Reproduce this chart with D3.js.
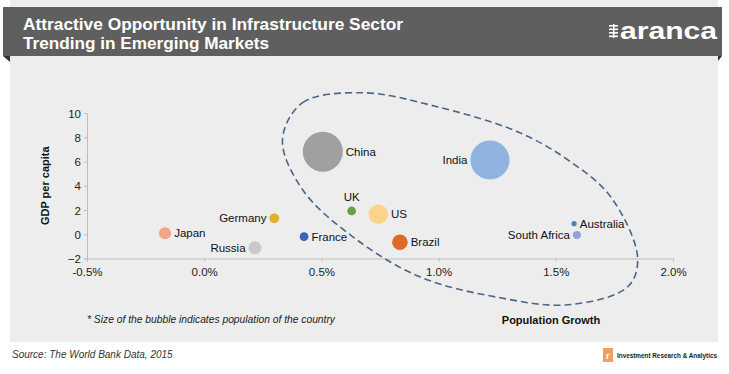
<!DOCTYPE html>
<html><head><meta charset="utf-8">
<script src="https://cdn.jsdelivr.net/npm/d3@7"></script>
<style>
body{margin:0;background:#fff;}
svg{display:block;font-family:"Liberation Sans",Arial,sans-serif;}
</style></head>
<body><svg id="c" width="729" height="374"></svg>
<script>
// ---- data ----
const countries = ["China","India","US","Brazil","Russia","Japan","Germany","France","UK","South Africa","Australia"];
const popGrowth = [0.506, 1.219, 0.743, 0.835, 0.217, -0.167, 0.299, 0.426, 0.629, 1.590, 1.578];
const gdpPerCapita = [6.81, 6.12, 1.65, -0.66, -1.11, 0.08, 1.32, -0.20, 1.92, -0.06, 0.87];
const population = [1371, 1311, 321, 208, 144, 127, 81, 66, 65, 55, 24];
const colors = ["#a0a0a2","#8fb4e0","#fdd387","#de6c26","#c9c9c9","#f2a487","#e5ad2e","#3b63bd","#6b9b45","#949fdb","#4f82b6"];
const labelPos = ["right","left","right","right","left","right","left","right","top","left","right"];
const xTicks = [-0.5, 0.0, 0.5, 1.0, 1.5, 2.0];
const yTicks = [-2, 0, 2, 4, 6, 8, 10];
// annotation loop (data coordinates)
const loopX = [0.334,0.420,0.676,0.993,1.336,1.550,1.734,1.849,1.807,1.550,1.263,0.920,0.634,0.420];
const loopY = [7.80,10.85,11.67,10.52,8.46,6.15,3.09,-1.94,-4.33,-5.82,-5.24,-3.51,-0.21,3.67];

const svg = d3.select("#c");
// background panel
svg.append("rect").attr("x",10).attr("y",0).attr("width",708).attr("height",342).attr("fill","#ededed");
// title ribbon
svg.append("path").attr("d","M3,56 L10,56 L10,62 Z").attr("fill","#333");
svg.append("path").attr("d","M722,56 L718,56 L718,61 Z").attr("fill","#333");
svg.append("rect").attr("x",3).attr("y",7).attr("width",719).attr("height",49).attr("fill","#5f5f5f");
const tf = '"Liberation Sans Narrow","Liberation Sans",Arial,sans-serif';
svg.append("text").attr("x",23).attr("y",30).attr("fill","#fff").attr("font-weight","bold").attr("font-size",17)
  .attr("font-family",tf).attr("textLength",380).attr("lengthAdjust","spacingAndGlyphs")
  .text("Attractive Opportunity in Infrastructure Sector");
svg.append("text").attr("x",23).attr("y",49).attr("fill","#fff").attr("font-weight","bold").attr("font-size",17)
  .attr("font-family",tf).attr("textLength",246).attr("lengthAdjust","spacingAndGlyphs")
  .text("Trending in Emerging Markets");
// logo
const lg = svg.append("g").attr("fill","#fff");
for(let i=0;i<4;i++){lg.append("rect").attr("x",609).attr("y",25+i*3.5).attr("width",9).attr("height",1.6);}
lg.append("rect").attr("x",613).attr("y",24).attr("width",1.5).attr("height",14);
svg.append("text").attr("x",620).attr("y",39).attr("fill","#fff").attr("font-size",24).attr("font-weight","bold")
  .attr("font-family",'"Liberation Sans",Arial,sans-serif').attr("textLength",97).attr("lengthAdjust","spacingAndGlyphs").text("aranca");

// scales
const x = d3.scaleLinear().domain([-0.5,2.0]).range([87,673]);
const y = d3.scaleLinear().domain([-2,10]).range([258.5,113]);
const r = d3.scaleSqrt().domain([0,1371]).range([0,20]);

// axes
const xa = svg.append("g").attr("transform","translate(0,"+y(-2)+")")
  .call(d3.axisBottom(x).tickValues(xTicks).tickSize(3).tickPadding(6).tickFormat(d=>d.toFixed(1)+"%"));
const ya = svg.append("g").attr("transform","translate("+x(-0.5)+",0)")
  .call(d3.axisLeft(y).tickValues(yTicks).tickSize(3).tickPadding(3).tickFormat(d3.format("d")));
[xa,ya].forEach(a=>{
  a.select(".domain").attr("stroke","#bdbdbd");
  a.selectAll(".tick line").attr("stroke","#bdbdbd");
  a.selectAll("text").attr("fill","#222").attr("font-size",11.5).attr("font-family",'"Liberation Sans",Arial,sans-serif');
});
ya.selectAll(".tick text").attr("dy","0.36em");

// dashed loop
const loopPts = loopX.map((v,i)=>[x(v),y(loopY[i])]);
svg.append("path").attr("d",d3.line().curve(d3.curveCatmullRomClosed.alpha(0.5))(loopPts))
  .attr("fill","none").attr("stroke","#4d6585").attr("stroke-width",1.6).attr("stroke-dasharray","7,4");

// bubbles
const data = countries.map((c,i)=>({c,x:popGrowth[i],y:gdpPerCapita[i],p:population[i],col:colors[i],lp:labelPos[i]}));
svg.append("g").selectAll("circle").data(data).join("circle")
  .attr("cx",d=>x(d.x)).attr("cy",d=>y(d.y)).attr("r",d=>r(d.p)).attr("fill",d=>d.col);
svg.append("g").selectAll("text").data(data).join("text")
  .attr("x",d=>d.lp==="right"?x(d.x)+r(d.p)+3:d.lp==="left"?x(d.x)-r(d.p)-3:x(d.x))
  .attr("y",d=>d.lp==="top"?y(d.y)-r(d.p)-6:y(d.y)+4)
  .attr("text-anchor",d=>d.lp==="right"?"start":d.lp==="left"?"end":"middle")
  .attr("font-size",11.5).attr("fill","#111").text(d=>d.c);

// axis titles
svg.append("text").attr("transform","translate(49,"+y(4)+") rotate(-90)").attr("text-anchor","middle")
  .attr("font-weight","bold").attr("font-size",11).attr("fill","#111").text("GDP per capita");
svg.append("text").attr("x",551).attr("y",324).attr("text-anchor","middle")
  .attr("font-weight","bold").attr("font-size",11).attr("fill","#111").text("Population Growth");
svg.append("text").attr("x",87).attr("y",323).attr("font-style","italic").attr("font-size",10).attr("fill","#222")
  .attr("textLength",248).attr("lengthAdjust","spacingAndGlyphs")
  .text("* Size of the bubble indicates population of the country");

// footer
svg.append("text").attr("x",12).attr("y",358).attr("font-style","italic").attr("font-size",10).attr("fill","#333")
  .text("Source: The World Bank Data, 2015");
svg.append("rect").attr("x",603).attr("y",348).attr("width",10).attr("height",14).attr("fill","#f0a060");
svg.append("text").attr("x",606).attr("y",359).attr("font-size",9).attr("fill","#fff").attr("font-weight","bold").text("r");
svg.append("text").attr("x",617).attr("y",358).attr("font-size",7).attr("font-weight","bold").attr("fill","#222")
  .attr("textLength",100).attr("lengthAdjust","spacingAndGlyphs").text("Investment  Research & Analytics");
</script></body></html>
